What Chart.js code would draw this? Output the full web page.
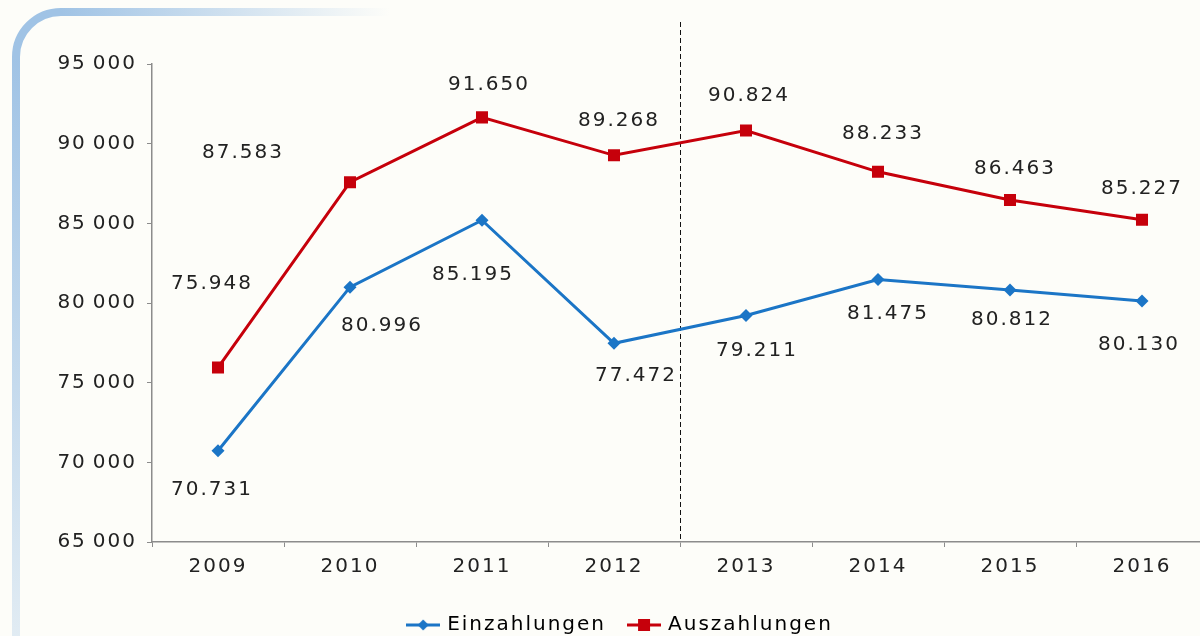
<!DOCTYPE html>
<html>
<head>
<meta charset="utf-8">
<script src="https://cdn.jsdelivr.net/npm/chart.js@4/dist/chart.umd.min.js"></script>
<style>
  html, body { margin: 0; padding: 0; background: #fdfdf9; overflow: hidden; }
  #wrap { width: 1200px; height: 645px; }
  canvas { display: block; }
</style>
</head>
<body>
<div id="wrap"><canvas id="chart" width="1200" height="645"></canvas></div>
<script>
const years = ['2009', '2010', '2011', '2012', '2013', '2014', '2015', '2016'];
const einzahlungen = [70731, 80996, 85195, 77472, 79211, 81475, 80812, 80130];
const auszahlungen = [75948, 87583, 91650, 89268, 90824, 88233, 86463, 85227];
const yMin = 65000, yMax = 95000, yStep = 5000;

// where each value label sits relative to its point (px)
const einLabelOffset = [[-7, 39], [31, 39], [-10, 55], [21, 33], [10, 35], [9, 34], [1, 30], [-4, 44]];
const ausLabelOffset = [[-7, -84], [-108, -29], [6, -33], [4, -35], [2, -35], [4, -38], [4, -31], [-1, -31]];

const BLUE = '#1b75c6';
const RED = '#c6000b';
const FONT = 'DejaVu Sans';
const SPACING = '2px';
const PLOT_RIGHT = 1208; // the plot runs just past the right edge in the original

const fmtTick = v => String(v).replace(/\B(?=(\d{3})+(?!\d))/g, '\u2009');
const fmtLabel = v => String(v).replace(/\B(?=(\d{3})+(?!\d))/g, '.');

function legendIcon(color, style) {
  const c = document.createElement('canvas');
  c.width = 34; c.height = 14;
  const g = c.getContext('2d');
  g.strokeStyle = color; g.lineWidth = 3;
  g.beginPath(); g.moveTo(0, 7); g.lineTo(34, 7); g.stroke();
  g.fillStyle = color;
  if (style === 'diamond') {
    g.beginPath(); g.moveTo(17, 1.5); g.lineTo(22.5, 7); g.lineTo(17, 12.5); g.lineTo(11.5, 7); g.closePath(); g.fill();
  } else {
    g.fillRect(11, 1, 12, 12);
  }
  return c;
}

const spacingPlugin = {
  id: 'spacing',
  beforeLayout(chart) { chart.ctx.letterSpacing = SPACING; },
  afterLayout(chart) {
    // legend sits a little right of centre in the original
    const lg = chart.legend;
    if (lg) { lg.left += 21; lg.right += 21; }
    // stretch the x axis out to the edge
    const xs = chart.scales.x;
    xs.right = PLOT_RIGHT;
    xs.width = xs.right - xs.left;
    xs.configure();
    chart.chartArea.right = PLOT_RIGHT;
    chart.chartArea.width = PLOT_RIGHT - chart.chartArea.left;
  },
  beforeDraw(chart) { chart.ctx.letterSpacing = SPACING; }
};

const backdrop = {
  id: 'backdrop',
  beforeDraw(chart) {
    const ctx = chart.ctx;
    ctx.save();
    ctx.fillStyle = '#fdfdf9';
    ctx.fillRect(0, 0, chart.width, chart.height);
    ctx.lineWidth = 8;
    ctx.lineCap = 'butt';
    // left bar, fading downwards
    let g = ctx.createLinearGradient(0, 57, 0, 636);
    g.addColorStop(0, 'rgba(160,195,229,1)');
    g.addColorStop(1, 'rgba(160,195,229,0.3)');
    ctx.strokeStyle = g;
    ctx.beginPath(); ctx.moveTo(16, 57); ctx.lineTo(16, chart.height); ctx.stroke();
    // corner
    ctx.strokeStyle = 'rgba(160,195,229,1)';
    ctx.beginPath(); ctx.arc(61, 57, 45, Math.PI, Math.PI * 1.5); ctx.stroke();
    // top bar, fading to the right
    g = ctx.createLinearGradient(61, 0, 390, 0);
    g.addColorStop(0, 'rgba(160,195,229,1)');
    g.addColorStop(1, 'rgba(160,195,229,0)');
    ctx.strokeStyle = g;
    ctx.beginPath(); ctx.moveTo(61, 12); ctx.lineTo(390, 12); ctx.stroke();
    ctx.restore();
    ctx.letterSpacing = SPACING;
  }
};

const divider = {
  id: 'divider',
  beforeDatasetsDraw(chart) {
    const x = chart.scales.x;
    const px = Math.round((x.getPixelForValue(3) + x.getPixelForValue(4)) / 2) + 0.5;
    const ctx = chart.ctx;
    ctx.save();
    ctx.strokeStyle = '#111';
    ctx.lineWidth = 1;
    ctx.setLineDash([5, 3]);
    ctx.beginPath();
    ctx.moveTo(px, 22);
    ctx.lineTo(px, chart.chartArea.bottom);
    ctx.stroke();
    ctx.restore();
  }
};

const valueLabels = {
  id: 'valueLabels',
  afterDatasetsDraw(chart) {
    const ctx = chart.ctx;
    const offsets = [einLabelOffset, ausLabelOffset];
    ctx.save();
    ctx.letterSpacing = SPACING;
    ctx.font = `20px "${FONT}"`;
    ctx.fillStyle = '#222';
    ctx.textAlign = 'center';
    ctx.textBaseline = 'middle';
    chart.data.datasets.forEach((ds, i) => {
      chart.getDatasetMeta(i).data.forEach((pt, j) => {
        const [dx, dy] = offsets[i][j];
        ctx.fillText(fmtLabel(ds.data[j]), pt.x + dx + 1, pt.y + dy);
      });
    });
    ctx.restore();
  }
};

new Chart(document.getElementById('chart'), {
  type: 'line',
  data: {
    labels: years,
    datasets: [
      {
        label: 'Einzahlungen',
        data: einzahlungen,
        borderColor: BLUE,
        backgroundColor: BLUE,
        borderWidth: 3,
        pointStyle: 'rectRot',
        pointRadius: 6.5,
        pointBorderWidth: 0,
        tension: 0
      },
      {
        label: 'Auszahlungen',
        data: auszahlungen,
        borderColor: RED,
        backgroundColor: RED,
        borderWidth: 3,
        pointStyle: 'rect',
        pointRadius: 8.5,
        pointBorderWidth: 0,
        tension: 0
      }
    ]
  },
  options: {
    responsive: false,
    animation: false,
    layout: { padding: { top: 64, right: 0, left: 0, bottom: 0 } },
    plugins: {
      tooltip: { enabled: false },
      legend: {
        position: 'bottom',
        labels: {
          font: { family: FONT, size: 20 },
          color: '#222',
          usePointStyle: true,
          pointStyleWidth: 28,
          padding: 24,
          generateLabels: () => [
            { text: 'Einzahlungen', pointStyle: legendIcon(BLUE, 'diamond'), fillStyle: BLUE, strokeStyle: BLUE, lineWidth: 0, datasetIndex: 0 },
            { text: 'Auszahlungen', pointStyle: legendIcon(RED, 'square'), fillStyle: RED, strokeStyle: RED, lineWidth: 0, datasetIndex: 1 }
          ]
        }
      }
    },
    scales: {
      x: {
        offset: true,
        afterFit: s => { s.height = 49; },
        grid: { display: true, drawOnChartArea: false, offset: true, tickLength: 5, color: '#8c8c8c' },
        border: { display: true, color: '#8c8c8c', width: 1.5 },
        ticks: { color: '#222', padding: 8, font: { family: FONT, size: 20 } }
      },
      y: {
        min: yMin,
        max: yMax,
        afterFit: s => { s.width = 152; },
        grid: { display: true, drawOnChartArea: false, tickLength: 5, color: '#8c8c8c' },
        border: { display: true, color: '#8c8c8c', width: 1.5 },
        ticks: {
          stepSize: yStep,
          color: '#222',
          padding: 10,
          font: { family: FONT, size: 20 },
          callback: v => fmtTick(v)
        }
      }
    }
  },
  plugins: [spacingPlugin, backdrop, divider, valueLabels]
});
</script>
</body>
</html>
